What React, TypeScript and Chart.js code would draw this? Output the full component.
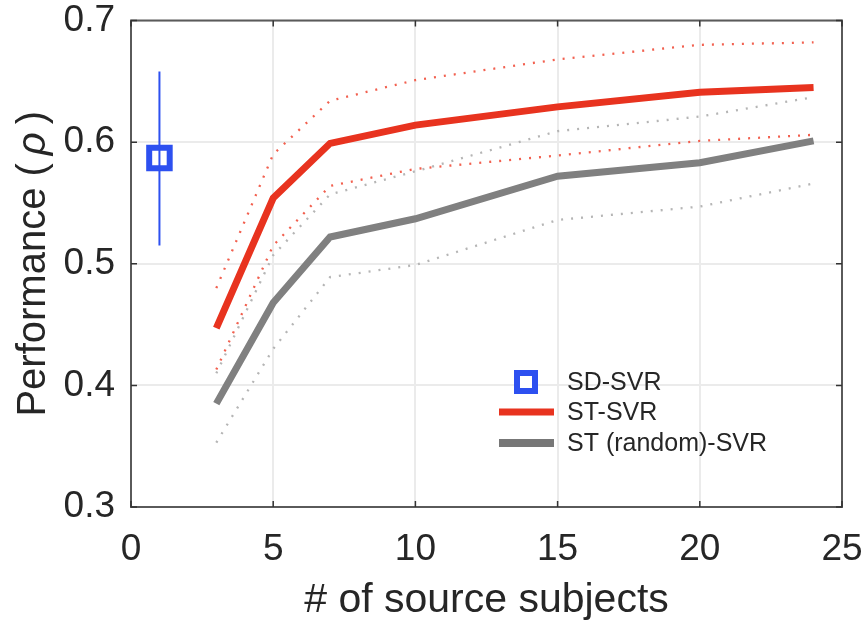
import React, { useEffect, useRef } from "react";
import { Chart, registerables } from "chart.js";
Chart.register(...registerables);

const xSubjects = [3, 5, 7, 10, 15, 20, 24];
const stMean = [0.447, 0.554, 0.599, 0.614, 0.629, 0.641, 0.645];
const stUpper = [0.48, 0.59, 0.634, 0.651, 0.668, 0.68, 0.682];
const stLower = [0.413, 0.515, 0.564, 0.578, 0.589, 0.601, 0.606];
const rndMean = [0.385, 0.468, 0.522, 0.537, 0.572, 0.583, 0.601];
const rndUpper = [0.41, 0.507, 0.557, 0.576, 0.609, 0.621, 0.637];
const rndLower = [0.353, 0.43, 0.489, 0.499, 0.536, 0.547, 0.566];
const sdX = [1];
const sdMean = [0.587];
const sdLow = [0.515];
const sdHigh = [0.658];
const xTicks = [0, 5, 10, 15, 20, 25];
const yTicks = [0.3, 0.4, 0.5, 0.6, 0.7];
const legendLabels = ["SD-SVR", "ST-SVR", "ST (random)-SVR"];
const yTitleParts = ["Performance (", "\u2009ρ\u2009", ")"];

const RED = "#e8331f";
const RED_DOT = "#f2604f";
const GRAY = "#808080";
const GRAY_DOT = "#b5b5b5";
const BLUE = "#2d50f0";
const TEXT = "#262626";
const FONT = "'Liberation Sans', Arial, Helvetica, sans-serif";

const pts = (xs: number[], ys: number[]) => xs.map((x, i) => ({ x, y: ys[i] }));

const framePlugin = {
  id: "frame",
  afterDatasetsDraw(chart: any) {
    const { ctx, chartArea: a, scales } = chart;
    ctx.save();
    ctx.strokeStyle = "#5a5a5a";
    ctx.lineWidth = 2;
    ctx.strokeRect(a.left, a.top, a.right - a.left, a.bottom - a.top);
    ctx.lineWidth = 1.5;
    ctx.strokeStyle = "#333";
    const tl = 6;
    xTicks.forEach((v) => {
      const px = scales.x.getPixelForValue(v);
      ctx.beginPath();
      ctx.moveTo(px, a.bottom);
      ctx.lineTo(px, a.bottom - tl);
      ctx.moveTo(px, a.top);
      ctx.lineTo(px, a.top + tl);
      ctx.stroke();
    });
    yTicks.forEach((v) => {
      const py = scales.y.getPixelForValue(v);
      ctx.beginPath();
      ctx.moveTo(a.left, py);
      ctx.lineTo(a.left + tl, py);
      ctx.moveTo(a.right, py);
      ctx.lineTo(a.right - tl, py);
      ctx.stroke();
    });
    ctx.restore();
  },
  afterDraw(chart: any) {
    const { ctx, chartArea: a } = chart;
    ctx.save();
    // legend
    const lx0 = 499, lx1 = 554, tx = 567;
    const rows = [382, 412, 443];
    ctx.fillStyle = "#fff";
    ctx.strokeStyle = BLUE;
    ctx.lineWidth = 6;
    ctx.fillRect(517, rows[0] - 9, 18, 18);
    ctx.strokeRect(517, rows[0] - 9, 18, 18);
    ctx.lineCap = "butt";
    ctx.lineWidth = 7;
    ctx.strokeStyle = RED;
    ctx.beginPath();
    ctx.moveTo(lx0, rows[1]);
    ctx.lineTo(lx1, rows[1]);
    ctx.stroke();
    ctx.strokeStyle = "#777";
    ctx.lineWidth = 8;
    ctx.beginPath();
    ctx.moveTo(lx0, rows[2]);
    ctx.lineTo(lx1, rows[2]);
    ctx.stroke();
    ctx.fillStyle = TEXT;
    ctx.font = `25px ${FONT}`;
    ctx.textBaseline = "middle";
    ctx.textAlign = "left";
    legendLabels.forEach((t, i) => ctx.fillText(t, tx, rows[i] + 1));

    // y axis title (rotated, italic rho)
    const fonts = [`40px ${FONT}`, `italic 40px ${FONT}`, `40px ${FONT}`];
    const widths = yTitleParts.map((t, i) => {
      ctx.font = fonts[i];
      return ctx.measureText(t).width;
    });
    const total = widths.reduce((s, w) => s + w, 0);
    const cy = (a.top + a.bottom) / 2;
    ctx.translate(45, cy);
    ctx.rotate(-Math.PI / 2);
    ctx.textBaseline = "alphabetic";
    let x = -total / 2;
    yTitleParts.forEach((t, i) => {
      ctx.font = fonts[i];
      ctx.fillText(t, x, 0);
      x += widths[i];
    });
    ctx.restore();
  },
};

export default function App() {
  const ref = useRef<HTMLCanvasElement>(null);
  useEffect(() => {
    document.body.style.margin = "0";
    const dotted = { borderWidth: 2.3, borderDash: [2, 8], pointRadius: 0, fill: false, tension: 0 };
    const chart = new Chart(ref.current!, {
      type: "line",
      data: {
        datasets: [
          { label: "stUpper", data: pts(xSubjects, stUpper), borderColor: RED_DOT, ...dotted, order: 5 },
          { label: "stLower", data: pts(xSubjects, stLower), borderColor: RED_DOT, ...dotted, order: 5 },
          { label: "rndUpper", data: pts(xSubjects, rndUpper), borderColor: GRAY_DOT, ...dotted, order: 6 },
          { label: "rndLower", data: pts(xSubjects, rndLower), borderColor: GRAY_DOT, ...dotted, order: 6 },
          { label: "ST (random)-SVR", data: pts(xSubjects, rndMean), borderColor: GRAY, borderWidth: 7, pointRadius: 0, order: 4 },
          { label: "ST-SVR", data: pts(xSubjects, stMean), borderColor: RED, borderWidth: 7, pointRadius: 0, order: 3 },
          {
            label: "SD-SVR",
            data: pts(sdX, sdMean),
            showLine: false,
            pointStyle: "rect",
            pointRadius: 14.5,
            pointBorderWidth: 6,
            pointBackgroundColor: "#fff",
            pointBorderColor: BLUE,
            order: 2,
          },
          {
            label: "SD range",
            data: [
              { x: sdX[0], y: sdLow[0] },
              { x: sdX[0], y: sdHigh[0] },
            ],
            borderColor: BLUE,
            borderWidth: 2,
            pointRadius: 0,
            order: 1,
          },
        ],
      },
      options: {
        animation: false,
        responsive: false,
        maintainAspectRatio: false,
        layout: { padding: { top: 16, right: 23, left: 0, bottom: 0 } },
        plugins: { legend: { display: false }, tooltip: { enabled: false } },
        scales: {
          x: {
            type: "linear",
            min: 0,
            max: 25,
            afterBuildTicks: (s: any) => {
              s.ticks = xTicks.map((v) => ({ value: v }));
            },
            afterFit: (s: any) => {
              s.height = 118;
              s.paddingLeft = 0;
              s.paddingRight = 0;
            },
            grid: { color: "#ebebeb", lineWidth: 2, drawTicks: false },
            border: { display: false },
            ticks: {
              padding: 21,
              color: TEXT,
              font: { family: FONT, size: 37 },
              callback: (v: any) => String(v),
            },
            title: {
              display: true,
              text: "# of source subjects",
              color: TEXT,
              font: { family: FONT, size: 41 },
              padding: { top: 0, bottom: 0 },
            },
          },
          y: {
            type: "linear",
            min: 0.3,
            max: 0.7,
            afterBuildTicks: (s: any) => {
              s.ticks = yTicks.map((v) => ({ value: v }));
            },
            afterFit: (s: any) => {
              s.width = 131;
              s.paddingTop = 0;
              s.paddingBottom = 0;
            },
            grid: { color: "#ebebeb", lineWidth: 2, drawTicks: false },
            border: { display: false },
            ticks: {
              padding: 16,
              color: TEXT,
              font: { family: FONT, size: 37 },
              callback: (v: any) => Number(v).toFixed(1),
            },
            title: { display: false },
          },
        },
      },
      plugins: [framePlugin],
    } as any);
    return () => chart.destroy();
  }, []);
  return (
    <div style={{ position: "absolute", left: 0, top: 0, width: 865, height: 625 }}>
      <canvas ref={ref} width={865} height={625} style={{ width: 865, height: 625 }} />
    </div>
  );
}
